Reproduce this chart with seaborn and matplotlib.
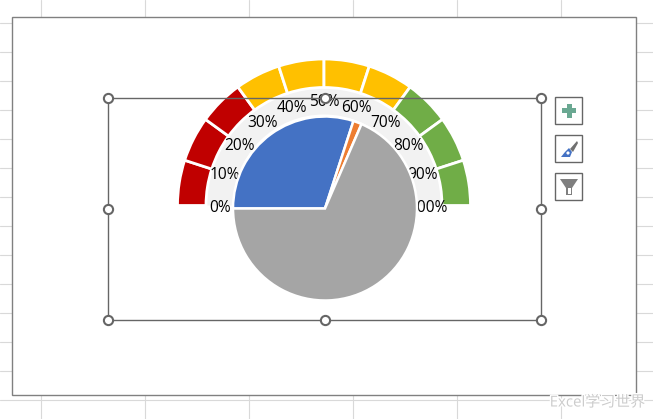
import matplotlib
matplotlib.use("Agg")
import matplotlib.pyplot as plt
import matplotlib.patheffects as pe
from matplotlib.patches import Rectangle, Circle, Polygon
import numpy as np
import seaborn as sns

sns.set_theme(style="white")
plt.rcParams['font.family'] = ['Open Sans', 'Noto Sans CJK SC', 'DejaVu Sans']

# ---- data ----
gauge_steps = [10, 10, 10, 10, 10, 10, 10, 10, 10, 10]
gauge_hidden = [100]
gauge_colors = ['#C00000'] * 3 + ['#FFC000'] * 4 + ['#70AD47'] * 3
ring_values = [100, 100]
tick_values = [0, 10, 20, 30, 40, 50, 60, 70, 80, 90, 100]
tick_labels = ['0%', '10%', '20%', '30%', '40%', '50%', '60%', '70%', '80%', '90%', '100%']
pointer_values = [30, 1.5, 68.5]
pointer_colors = ['#4472C4', '#ED7D31', '#A5A5A5']
watermark = 'Excel学习世界'

W, H = 653, 419
fig = plt.figure(figsize=(W / 100, H / 100), dpi=100)
ax = fig.add_axes([0, 0, 1, 1])

def Y(y):
    return H - y

# spreadsheet gridlines
for x in range(41, W, 104):
    ax.plot([x, x], [0, H], color='#D9D9D9', lw=0.8, zorder=0)
for y in range(23, H, 29):
    ax.plot([0, W], [Y(y), Y(y)], color='#D9D9D9', lw=0.8, zorder=0)

# chart window
ax.add_patch(Rectangle((12, Y(395)), 624, 378, fc='white', ec='#808080', lw=1.0, zorder=1))

gc = (324, Y(205.5))
pc = (325, Y(208.5))

# grey ring
ring, _ = ax.pie(ring_values, radius=118, center=gc, startangle=180, counterclock=False,
                 colors=['#F2F2F2', 'none'], wedgeprops=dict(width=27, lw=0))
ring[1].set_visible(False)

# gauge band
wedges, _ = ax.pie(gauge_steps + gauge_hidden, radius=146.5, center=gc, startangle=180,
                   counterclock=False, colors=gauge_colors + ['none'],
                   wedgeprops=dict(width=28.5, edgecolor='white', lw=2.0))
wedges[-1].set_visible(False)

# percent labels, covered in part by the pointer pie
for v, s in zip(tick_values, tick_labels):
    a = np.deg2rad(180 * (1 - v / 100))
    ax.text(gc[0] + 104 * np.cos(a), gc[1] - 2 + 105 * np.sin(a), s, ha='center', va='center',
            fontsize=11.2, color='#000000', zorder=3)

# pointer pie
pw, _ = ax.pie(pointer_values, radius=92, center=pc, startangle=180, counterclock=False,
               colors=pointer_colors, wedgeprops=dict(edgecolor='white', lw=1.8))
for p in pw:
    p.set_zorder(4)

# selection frame
sel = '#666666'
ax.add_patch(Rectangle((108, Y(320)), 433, 222, fc='none', ec=sel, lw=1.0, zorder=5))
for hx, hy in [(108, 98), (325, 98), (541, 98), (108, 209), (541, 209),
               (108, 320), (325, 320), (541, 320)]:
    ax.add_patch(Circle((hx + .5, Y(hy + .5)), 4.6, fc='white', ec=sel, lw=1.5, zorder=6))

# side buttons
for by in (97, 135, 173):
    ax.add_patch(Rectangle((555, Y(by + 27)), 27, 27, fc='white', ec='#666666', lw=1.0, zorder=5))

# plus
ax.add_patch(Rectangle((562, Y(113.5)), 14, 5, fc='#6AA892', ec='none', zorder=6))
ax.add_patch(Rectangle((566.5, Y(118)), 5, 14, fc='#6AA892', ec='none', zorder=6))
# brush
ax.add_patch(Polygon([(570, Y(149)), (577, Y(141)), (578, Y(143)), (573, Y(152))], fc='#707070', ec='none', zorder=6))
ax.add_patch(Polygon([(561, Y(157)), (565, Y(152)), (569, Y(148)), (572, Y(152)), (570, Y(157))], fc='#4472C4', ec='none', zorder=6))
ax.add_patch(Circle((568, Y(153)), 1.6, fc='white', ec='none', zorder=7))
# funnel
ax.add_patch(Polygon([(560, Y(179)), (578, Y(179)), (572, Y(188)), (572, Y(195)), (566, Y(195)), (566, Y(188))],
                     fc='#7F7F7F', ec='none', zorder=6))
ax.add_patch(Polygon([(567.5, Y(188)), (570.5, Y(188)), (570.5, Y(194)), (567.5, Y(194))], fc='white', ec='none', zorder=7))

# watermark
ax.text(597.5, Y(403), watermark, ha='center', va='center', fontsize=10.8, color='#CCCCCC', zorder=8,
        path_effects=[pe.withStroke(linewidth=2, foreground='white')])

ax.set_xlim(0, W)
ax.set_ylim(0, H)
ax.set_aspect('auto')
ax.axis('off')
fig.savefig('out.png', dpi=100)
